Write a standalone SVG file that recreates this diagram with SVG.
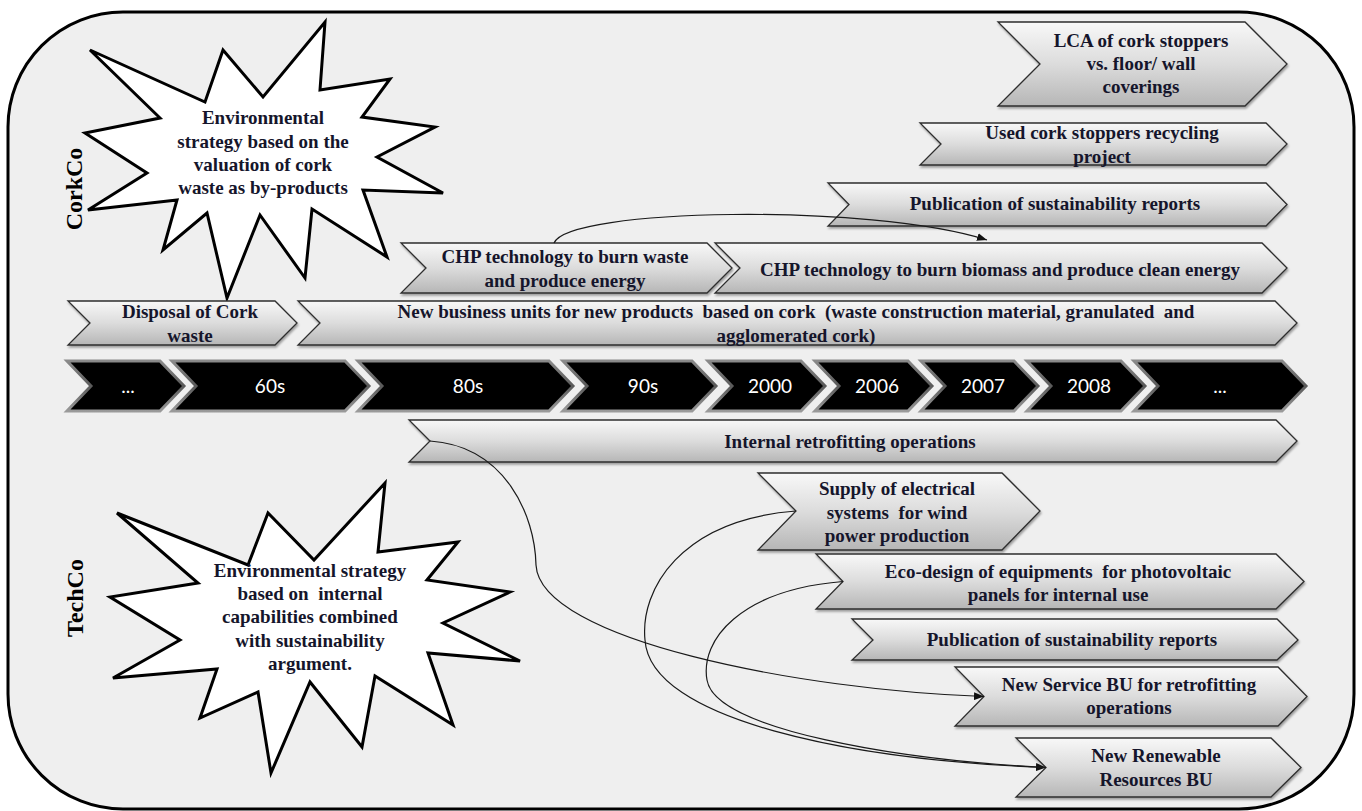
<svg xmlns="http://www.w3.org/2000/svg" width="1362" height="811" viewBox="0 0 1362 811">
<defs>
<linearGradient id="lg" x1="0" y1="0" x2="0" y2="1">
<stop offset="0" stop-color="#f8f8f8"/>
<stop offset="0.5" stop-color="#dcdcdc"/>
<stop offset="1" stop-color="#b6b6b6"/>
</linearGradient>
<linearGradient id="bk" x1="0" y1="0" x2="0" y2="1">
<stop offset="0" stop-color="#8a8a8a"/>
<stop offset="0.5" stop-color="#5a5a5a"/>
<stop offset="1" stop-color="#9a9a9a"/>
</linearGradient>
<filter id="sh" x="-5%" y="-20%" width="110%" height="150%">
<feDropShadow dx="1" dy="2" stdDeviation="1.2" flood-color="#000" flood-opacity="0.35"/>
</filter>
<marker id="ah" viewBox="0 0 10 8" refX="10" refY="4" markerWidth="10" markerHeight="8" markerUnits="userSpaceOnUse" orient="auto">
<path d="M0,0 L10,4 L0,8 z" fill="#111"/>
</marker>
<style>
.chev{fill:url(#lg);stroke:#2e2e2e;stroke-width:1.3;filter:url(#sh)}
.tl{fill:#000;stroke:url(#bk);stroke-width:3}
.t{font-family:"Liberation Serif","Times New Roman",serif;font-weight:bold;font-size:19px;fill:#15152b;text-anchor:middle;white-space:pre}
.tw{font-family:Lato,"Open Sans",sans-serif;font-size:19px;fill:#fff;text-anchor:middle}
.star{fill:#fff;stroke:#000;stroke-width:3;stroke-linejoin:miter}
.lab{font-family:"Liberation Serif","Times New Roman",serif;font-weight:bold;font-size:24px;fill:#000;text-anchor:middle}
.con{fill:none;stroke:#1a1a1a;stroke-width:1.2}
</style>
</defs>
<rect x="8" y="12" width="1346" height="797" rx="115" ry="115" fill="#efefef" stroke="#000" stroke-width="3"/>

<g id="label-corkco"><text class="lab" transform="translate(82,189) rotate(-90)">CorkCo</text></g>
<g id="label-techco"><text class="lab" transform="translate(83,598) rotate(-90)">TechCo</text></g>

<g id="star-corkco">
<polygon class="star" points="90,50 205,102 223,50 263,97 325,22 320,90 390,79 362,117 435,127 377,157 443,193 363,190 387,257 312,209 305,278 260,215 227,298 207,213 163,250 177,200 88,210 147,173 85,133 160,118"/>
<text class="t"><tspan x="263" y="124">Environmental</tspan><tspan x="263" y="148">strategy based on the</tspan><tspan x="263" y="171">valuation of cork</tspan><tspan x="263" y="194">waste as by-products</tspan></text>
</g>

<g id="star-techco">
<polygon class="star" points="117,513 248,565 268,513 314,560 385,483 378,552 458,542 427,580 510,592 443,623 520,661 428,653 453,725 375,676 362,747 310,682 271,773 258,692 200,718 217,669 113,678 180,640 110,597 198,583"/>
<text class="t" xml:space="preserve"><tspan x="310" y="577">Environmental strategy</tspan><tspan x="310" y="600">based on  internal</tspan><tspan x="310" y="623">capabilities combined</tspan><tspan x="310" y="647">with sustainability</tspan><tspan x="310" y="670">argument.</tspan></text>
</g>

<g id="timeline">
<g id="tl-1"><polygon class="tl" points="67,361 160,361 184,386 160,411 67,411 91,386"/><text class="tw" x="128" y="393">...</text></g>
<g id="tl-60s"><polygon class="tl" points="172,361 345,361 369,386 345,411 172,411 196,386"/><text class="tw" x="270" y="393">60s</text></g>
<g id="tl-80s"><polygon class="tl" points="358,361 549,361 573,386 549,411 358,411 382,386"/><text class="tw" x="468" y="393">80s</text></g>
<g id="tl-90s"><polygon class="tl" points="563,361 692,361 716,386 692,411 563,411 587,386"/><text class="tw" x="643" y="393">90s</text></g>
<g id="tl-2000"><polygon class="tl" points="708,361 801,361 825,386 801,411 708,411 732,386"/><text class="tw" x="770" y="393">2000</text></g>
<g id="tl-2006"><polygon class="tl" points="815,361 908,361 932,386 908,411 815,411 839,386"/><text class="tw" x="877" y="393">2006</text></g>
<g id="tl-2007"><polygon class="tl" points="921,361 1014,361 1038,386 1014,411 921,411 945,386"/><text class="tw" x="983" y="393">2007</text></g>
<g id="tl-2008"><polygon class="tl" points="1027,361 1121,361 1145,386 1121,411 1027,411 1051,386"/><text class="tw" x="1089" y="393">2008</text></g>
<g id="tl-9"><polygon class="tl" points="1134,361 1282,361 1306,386 1282,411 1134,411 1158,386"/><text class="tw" x="1220" y="393">...</text></g>
</g>

<g id="n-lca"><polygon class="chev" points="998,22 1245,22 1287,64 1245,106 998,106 1040,64"/>
<text class="t"><tspan x="1141" y="47">LCA of cork stoppers</tspan><tspan x="1141" y="70">vs. floor/ wall</tspan><tspan x="1141" y="93">coverings</tspan></text></g>
<g id="n-used"><polygon class="chev" points="920,123 1266,123 1287,144 1266,165 920,165 941,144"/>
<text class="t"><tspan x="1102" y="139">Used cork stoppers recycling</tspan><tspan x="1102" y="163">project</tspan></text></g>
<g id="n-pubc"><polygon class="chev" points="828,183 1266,183 1287,204.5 1266,226 828,226 849,204.5"/>
<text class="t" x="1055" y="210">Publication of sustainability reports</text></g>
<g id="n-chpw"><polygon class="chev" points="401,243 707,243 732,268 707,293 401,293 426,268"/>
<text class="t"><tspan x="565" y="263">CHP technology to burn waste</tspan><tspan x="565" y="287">and produce energy</tspan></text></g>
<g id="n-chpb"><polygon class="chev" points="715,243 1262,243 1287,268 1262,293 715,293 740,268"/>
<text class="t" x="1000" y="276">CHP technology to burn biomass and produce clean energy</text></g>
<g id="n-disposal"><polygon class="chev" points="68,301 275,301 297,323 275,345 68,345 90,323"/>
<text class="t"><tspan x="190" y="318">Disposal of Cork</tspan><tspan x="190" y="342">waste</tspan></text></g>
<g id="n-newbiz"><polygon class="chev" points="298,301 1275,301 1297,323 1275,345 298,345 320,323"/>
<text class="t" xml:space="preserve"><tspan x="796" y="318">New business units for new products  based on cork  (waste construction material, granulated  and</tspan><tspan x="796" y="342">agglomerated cork)</tspan></text></g>

<g id="n-internal"><polygon class="chev" points="409,420 1276,420 1297,441 1276,462 409,462 430,441"/>
<text class="t" x="850" y="448">Internal retrofitting operations</text></g>
<g id="n-supply"><polygon class="chev" points="758,473 1002,473 1040,511 1002,550 758,550 796,511"/>
<text class="t" xml:space="preserve"><tspan x="897" y="495">Supply of electrical</tspan><tspan x="897" y="519">systems  for wind</tspan><tspan x="897" y="542">power production</tspan></text></g>
<g id="n-eco"><polygon class="chev" points="816,554 1276,554 1304,581.5 1276,609 816,609 843,581.5"/>
<text class="t" xml:space="preserve"><tspan x="1058" y="578">Eco-design of equipments  for photovoltaic</tspan><tspan x="1058" y="601">panels for internal use</tspan></text></g>
<g id="n-pubt"><polygon class="chev" points="852,619 1277,619 1298,640 1277,660 852,660 873,640"/>
<text class="t" x="1072" y="646">Publication of sustainability reports</text></g>
<g id="n-newserv"><polygon class="chev" points="955,667 1278,667 1307,696.5 1278,726 955,726 984,696.5"/>
<text class="t"><tspan x="1129" y="691">New Service BU for retrofitting</tspan><tspan x="1129" y="714">operations</tspan></text></g>
<g id="n-renew"><polygon class="chev" points="1016,738 1271,738 1301,767.5 1271,797 1016,797 1046,767.5"/>
<text class="t"><tspan x="1156" y="762">New Renewable</tspan><tspan x="1156" y="786">Resources BU</tspan></text></g>

<g id="connectors">
<path class="con" d="M554,243 C568,208 870,203 987,240" marker-end="url(#ah)"/>
<path class="con" d="M430,441 C505,446 535,515 536,565 C540,640 800,690 984,696.5" marker-end="url(#ah)"/>
<path class="con" d="M796,511 C680,520 640,590 645,640 C650,720 850,760 1046,767.5" marker-end="url(#ah)"/>
<path class="con" d="M843,581.5 C740,590 700,640 707,680 C715,730 900,760 1046,767.5"/>
</g>
</svg>
